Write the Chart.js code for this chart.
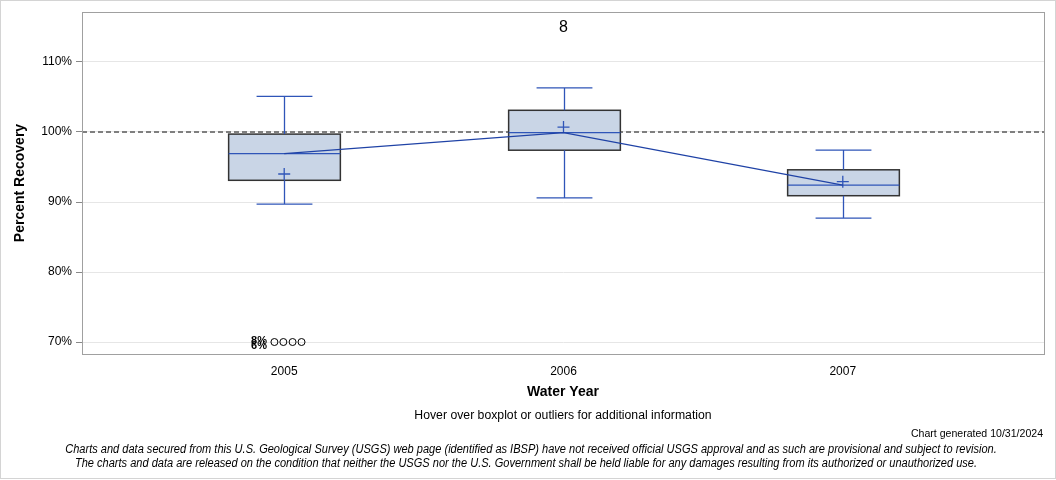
<!DOCTYPE html>
<html>
<head>
<meta charset="utf-8">
<script src="https://cdn.jsdelivr.net/npm/chart.js@4/dist/chart.umd.min.js"></script>
<style>
  html, body { margin: 0; padding: 0; background: #fff; }
  #wrap { width: 1056px; height: 480px; position: relative; }
</style>
</head>
<body>
<div id="wrap"><canvas id="myChart" width="1056" height="480"></canvas></div>
<script>
// water years and boxplot stats (percent recovery)
const years = ["2005", "2006", "2007"];
const whiskerLow = [89.7, 90.6, 87.7];
const q1 = [93.1, 97.4, 90.9];
const median = [96.9, 99.9, 92.4];
const q3 = [99.7, 103.1, 94.6];
const whiskerHigh = [105.1, 106.3, 97.4];
const means = [94.0, 100.7, 92.9];

// outliers drawn at the bottom edge for 2005
const outlierX = [-0.035, -0.003, 0.03, 0.062];
const outlierY = [70, 70, 70, 70];

// outlier count labels
const labelX = [1, -0.09, -0.09];
const labelY = [114.9, 70.1, 69.4];
const labelText = ["8", "8%", "6%"];

const yTicks = [70, 80, 90, 100, 110];
const refLine = 100;

const boxFill = "#c9d5e6";
const blue = "#2f55b8";
const lineBlue = "#1f42a6";

// draw text squeezed horizontally (the footer font is a narrow face)
function narrowText(ctx, text, cx, cy, sx) {
  ctx.save();
  ctx.translate(cx, cy);
  ctx.scale(sx, 1);
  ctx.fillText(text, 0, 0);
  ctx.restore();
}

const boxPlugin = {
  id: "boxes",
  beforeDatasetsDraw(chart) {
    const ctx = chart.ctx;
    const x = chart.scales.x;
    const y = chart.scales.y;
    const area = chart.chartArea;

    // reference line at 100%
    ctx.save();
    ctx.strokeStyle = "#7f7f7f";
    ctx.lineWidth = 2;
    ctx.setLineDash([5, 3]);
    ctx.beginPath();
    ctx.moveTo(area.left, y.getPixelForValue(refLine));
    ctx.lineTo(area.right, y.getPixelForValue(refLine));
    ctx.stroke();
    ctx.restore();

    years.forEach((yr, i) => {
      const cx = Math.round(x.getPixelForValue(i)) + 0.5;
      const halfBox = x.getPixelForValue(i + 0.2) - x.getPixelForValue(i);
      const halfCap = x.getPixelForValue(i + 0.1) - x.getPixelForValue(i);
      const pLo = y.getPixelForValue(whiskerLow[i]);
      const pQ1 = y.getPixelForValue(q1[i]);
      const pMed = y.getPixelForValue(median[i]);
      const pQ3 = y.getPixelForValue(q3[i]);
      const pHi = y.getPixelForValue(whiskerHigh[i]);

      ctx.save();
      // box
      ctx.fillStyle = boxFill;
      ctx.fillRect(cx - halfBox, pQ3, halfBox * 2, pQ1 - pQ3);
      ctx.strokeStyle = "#333";
      ctx.lineWidth = 1.5;
      ctx.strokeRect(cx - halfBox, pQ3, halfBox * 2, pQ1 - pQ3);

      // whiskers
      ctx.strokeStyle = blue;
      ctx.lineWidth = 1.3;
      ctx.beginPath();
      ctx.moveTo(cx, pQ3); ctx.lineTo(cx, pHi);
      ctx.moveTo(cx, pQ1); ctx.lineTo(cx, pLo);
      ctx.moveTo(cx - halfCap, pHi); ctx.lineTo(cx + halfCap, pHi);
      ctx.moveTo(cx - halfCap, pLo); ctx.lineTo(cx + halfCap, pLo);
      // median
      ctx.moveTo(cx - halfBox, pMed); ctx.lineTo(cx + halfBox, pMed);
      ctx.stroke();
      ctx.restore();
    });
  },
  afterDatasetsDraw(chart) {
    const ctx = chart.ctx;
    const x = chart.scales.x;
    const y = chart.scales.y;
    ctx.save();
    ctx.fillStyle = "#000";
    ctx.textAlign = "center";
    ctx.textBaseline = "middle";
    labelText.forEach((t, i) => {
      ctx.font = i === 0 ? "16px 'Liberation Sans', Arial, sans-serif" : "bold 11px 'Liberation Sans', Arial, sans-serif";
      ctx.fillText(t, x.getPixelForValue(labelX[i]), y.getPixelForValue(labelY[i]));
    });
    ctx.restore();
  },
  afterDraw(chart) {
    const ctx = chart.ctx;
    const area = chart.chartArea;
    ctx.save();
    // plot frame
    ctx.strokeStyle = "#a0a0a0";
    ctx.lineWidth = 1;
    ctx.strokeRect(area.left + 0.5, area.top + 0.5, area.right - area.left - 1, area.bottom - area.top);
    // outer frame
    ctx.strokeStyle = "#d4d4d4";
    ctx.strokeRect(0.5, 0.5, 1055, 478);

    ctx.fillStyle = "#000";
    ctx.textBaseline = "middle";
    ctx.textAlign = "center";
    ctx.font = "bold 14px 'Liberation Sans', Arial, sans-serif";
    ctx.fillText("Water Year", 563, 392);
    ctx.save();
    ctx.translate(20, 183);
    ctx.rotate(-Math.PI / 2);
    ctx.fillText("Percent Recovery", 0, 0);
    ctx.restore();

    ctx.font = "12px 'Liberation Sans', Arial, sans-serif";
    narrowText(ctx, "Hover over boxplot or outliers for additional information", 563, 416, 1.02);

    ctx.textAlign = "right";
    ctx.font = "11px 'Liberation Sans', Arial, sans-serif";
    narrowText(ctx, "Chart generated 10/31/2024", 1043, 434, 0.96);

    ctx.textAlign = "center";
    ctx.font = "italic 12px 'Liberation Sans', Arial, sans-serif";
    narrowText(ctx, "Charts and data secured from this U.S. Geological Survey (USGS) web page (identified as IBSP) have not received official USGS approval and as such are provisional and subject to revision.", 531, 450, 0.92);
    narrowText(ctx, "The charts and data are released on the condition that neither the USGS nor the U.S. Government shall be held liable for any damages resulting from its authorized or unauthorized use.", 526, 464, 0.92);
    ctx.restore();
  }
};

const ctx = document.getElementById("myChart").getContext("2d");
new Chart(ctx, {
  type: "line",
  data: {
    datasets: [
      {
        label: "Median",
        data: median.map((v, i) => ({ x: i, y: v })),
        borderColor: lineBlue,
        borderWidth: 1.2,
        pointRadius: 0,
        fill: false,
        tension: 0,
      },
      {
        type: "scatter",
        label: "Mean",
        data: means.map((v, i) => ({ x: i, y: v })),
        pointStyle: "cross",
        pointRadius: 6,
        borderColor: blue,
        borderWidth: 1.3,
      },
      {
        type: "scatter",
        label: "Outliers",
        data: outlierX.map((v, i) => ({ x: v, y: outlierY[i] })),
        pointStyle: "circle",
        pointRadius: 3.5,
        borderColor: "#000",
        backgroundColor: "rgba(0,0,0,0)",
        borderWidth: 1,
      },
    ],
  },
  options: {
    responsive: false,
    animation: false,
    layout: { padding: { top: 12, right: 11, left: 0, bottom: 0 } },
    plugins: {
      legend: { display: false },
      tooltip: { enabled: false },
    },
    scales: {
      x: {
        type: "linear",
        min: -0.724,
        max: 2.724,
        afterBuildTicks: (scale) => {
          scale.ticks = years.map((y, i) => ({ value: i }));
        },
        afterFit: (scale) => { scale.height = 126; },
        ticks: {
          callback: (v) => years[v],
          color: "#000",
          font: { family: "'Liberation Sans', Arial, sans-serif", size: 12 },
          padding: 4,
          maxRotation: 0,
        },
        grid: { display: false, drawTicks: true, tickLength: 6 },
        border: { display: false },
      },
      y: {
        min: 68.29,
        max: 117.14,
        afterBuildTicks: (scale) => {
          scale.ticks = yTicks.map((v) => ({ value: v }));
        },
        afterFit: (scale) => { scale.width = 82; },
        ticks: {
          callback: (v) => v + "%",
          color: "#000",
          font: { family: "'Liberation Sans', Arial, sans-serif", size: 12 },
          padding: 4,
        },
        grid: { color: "#e6e6e6", tickColor: "#888", tickLength: 6 },
        border: { display: false },
      },
    },
  },
  plugins: [boxPlugin],
});
</script>
</body>
</html>
